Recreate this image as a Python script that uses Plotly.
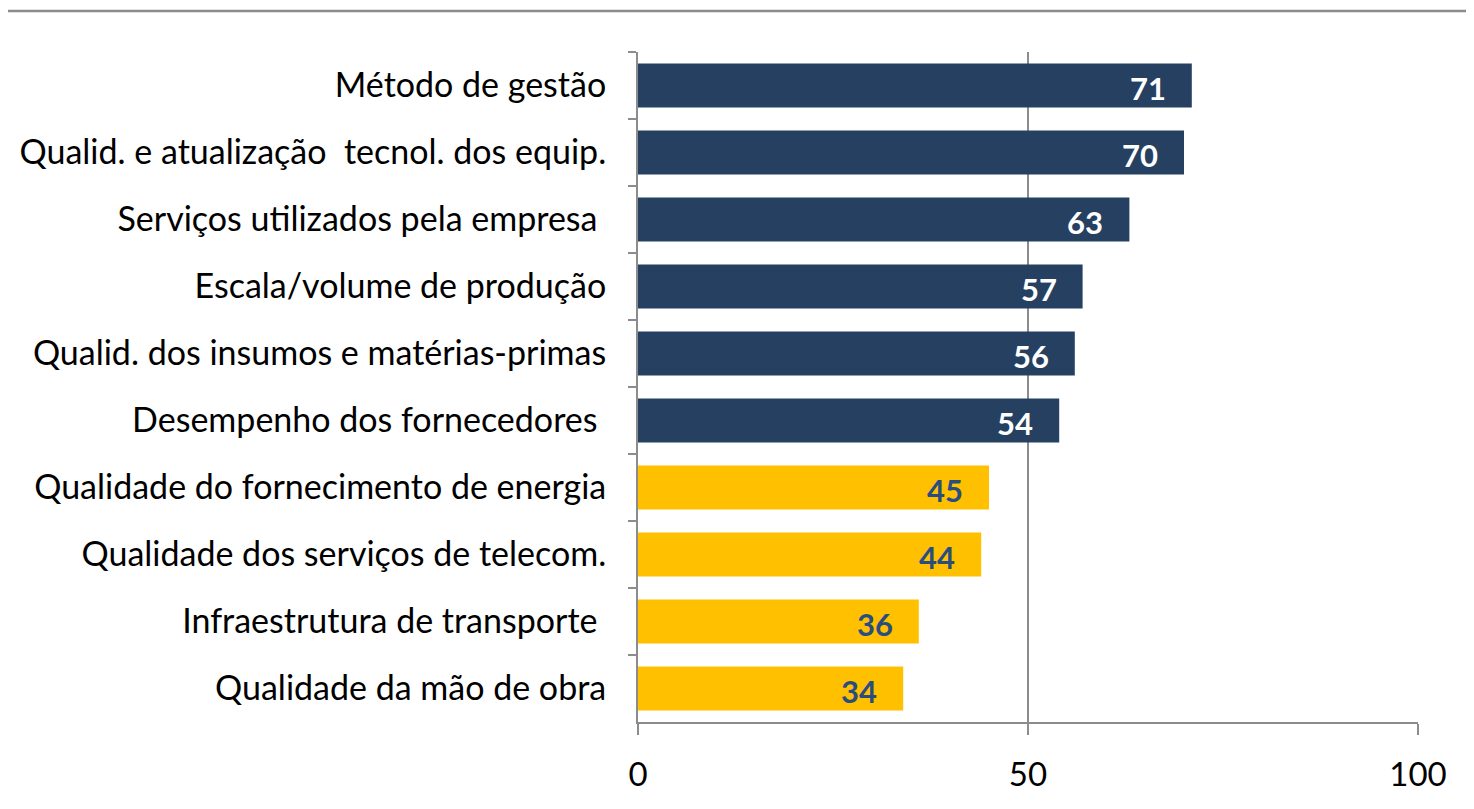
import plotly.graph_objects as go

categories = [
    "Método de gestão",
    "Qualid. e atualização  tecnol. dos equip.",
    "Serviços utilizados pela empresa\u00a0",
    "Escala/volume de produção",
    "Qualid. dos insumos e matérias-primas",
    "Desempenho dos fornecedores\u00a0",
    "Qualidade do fornecimento de energia",
    "Qualidade dos serviços de telecom.",
    "Infraestrutura de transporte\u00a0",
    "Qualidade da mão de obra",
]
values = [71, 70, 63, 57, 56, 54, 45, 44, 36, 34]
NAVY = "#264061"
YELLOW = "#FFC000"
bar_colors = [NAVY] * 6 + [YELLOW] * 4
label_colors = ["#FFFFFF"] * 6 + ["#2A4D80"] * 4
x_ticks = [0, 50, 100]

FONT = "Lato"
GRID = "#8C8C8C"

# page body has an 8px default margin; compensate
W, H = 1458, 793
L, T = 630, 44
R = 8 + W - 1418
B = 8 + H - 722
PW = W - L - R
PH = H - T - B

fig = go.Figure()
fig.add_trace(go.Bar(
    x=values, y=categories, orientation="h",
    marker=dict(color=bar_colors, line=dict(width=0)),
    hoverinfo="skip",
))

for c, v, col in zip(categories, values, label_colors):
    fig.add_annotation(x=v, y=c, xref="x", yref="y", text=f"<b>{v}</b>",
                       showarrow=False, xanchor="right", xshift=-24, yshift=-2,
                       font=dict(family=FONT, size=31, color=col))

fig.add_shape(type="line", xref="paper", yref="paper",
              x0=-(L + 8) / PW, x1=(W - L + 8) / PW, y0=1 + 41 / PH, y1=1 + 41 / PH,
              line=dict(color="#8C8C8C", width=2.5))

fig.update_layout(
    width=W, height=H,
    margin=dict(l=L, r=R, t=T, b=B, pad=0, autoexpand=False),
    paper_bgcolor="white", plot_bgcolor="white",
    bargap=0.34, showlegend=False,
    font=dict(family=FONT, size=34, color="black"),
)
fig.update_xaxes(range=[0, 100], tickvals=x_ticks, showgrid=True, gridcolor=GRID,
                 gridwidth=2, showline=True, linecolor=GRID, linewidth=2,
                 ticks="outside", ticklen=11, tickwidth=2, tickcolor=GRID,
                 tickfont=dict(family=FONT, size=33, color="black"),
                 ticklabelstandoff=11, zeroline=False, mirror=False, automargin=False)
fig.update_yaxes(autorange="reversed", showline=True, linecolor=GRID, linewidth=2,
                 ticks="outside", tickson="boundaries", ticklen=8, tickwidth=2,
                 tickcolor=GRID, showgrid=False, automargin=False,
                 tickfont=dict(family=FONT, size=34, color="black"),
                 ticklabelstandoff=23)

fig.write_html("out.html")
